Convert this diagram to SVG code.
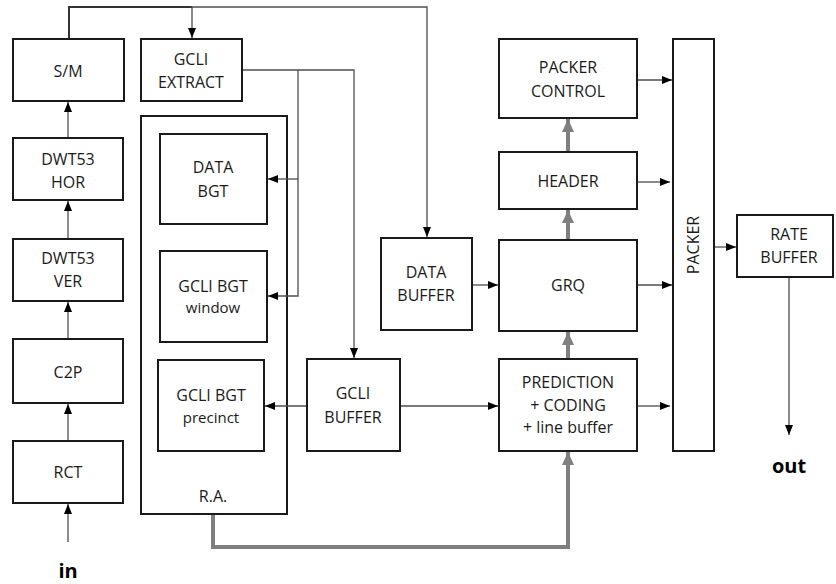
<svg xmlns="http://www.w3.org/2000/svg" width="836" height="584" viewBox="0 0 836 584">
  <defs>
    <style>
      .box { fill: #ffffff; stroke: #1a1a1a; stroke-width: 2; }
      .frame { fill: none; stroke: #1a1a1a; stroke-width: 2; }
      .lbl { font-family: "Open Sans", "Liberation Sans", sans-serif; font-size: 16px; fill: #1a1a1a; text-anchor: middle; }
      .sm { font-size: 15px; }
      .io { font-family: "Open Sans", "Liberation Sans", sans-serif; font-weight: bold; font-size: 20px; fill: #000; text-anchor: middle; }
      .wire { fill: none; stroke: #4d4d4d; stroke-width: 1.3; }
      .wire-dark { fill: none; stroke: #333333; stroke-width: 2; }
      .bus { fill: none; stroke: #7f7f7f; stroke-width: 4; }
    </style>
    <marker id="arrow" viewBox="0 0 10 10" refX="10" refY="5" markerWidth="10" markerHeight="10" markerUnits="userSpaceOnUse" orient="auto">
      <path d="M0,1 L10,5 L0,9 z" fill="#000000"/>
    </marker>
    <marker id="arrow-bus" viewBox="0 0 13 12" refX="13" refY="6" markerWidth="13" markerHeight="12" markerUnits="userSpaceOnUse" orient="auto">
      <path d="M0,0 L13,6 L0,12 z" fill="#7f7f7f"/>
    </marker>
  </defs>

  <!-- left pipeline -->
  <g id="sm">
    <rect class="box" x="13" y="39" width="111" height="62"/>
    <text class="lbl" x="68" y="77">S/M</text>
  </g>
  <g id="dwt-hor">
    <rect class="box" x="13" y="138" width="110" height="62"/>
    <text class="lbl" x="68" y="165">DWT53</text>
    <text class="lbl" x="68" y="188">HOR</text>
  </g>
  <g id="dwt-ver">
    <rect class="box" x="13" y="239" width="110" height="62"/>
    <text class="lbl" x="68" y="264">DWT53</text>
    <text class="lbl" x="68" y="287">VER</text>
  </g>
  <g id="c2p">
    <rect class="box" x="13" y="339" width="110" height="64"/>
    <text class="lbl" x="68" y="378">C2P</text>
  </g>
  <g id="rct">
    <rect class="box" x="13" y="441" width="110" height="62"/>
    <text class="lbl" x="68" y="478">RCT</text>
  </g>
  <g id="in">
    <text class="io" x="68" y="578">in</text>
  </g>

  <!-- GCLI extraction -->
  <g id="gcli-extract">
    <rect class="box" x="141" y="39" width="101" height="62"/>
    <text class="lbl" x="191" y="65">GCLI</text>
    <text class="lbl" x="191" y="88">EXTRACT</text>
  </g>

  <!-- rate allocation -->
  <g id="ra">
    <rect class="frame" x="141" y="116" width="146" height="398"/>
    <text class="lbl" x="213" y="502">R.A.</text>
  </g>
  <g id="data-bgt">
    <rect class="box" x="160" y="134" width="107" height="90"/>
    <text class="lbl" x="213" y="173">DATA</text>
    <text class="lbl" x="213" y="197">BGT</text>
  </g>
  <g id="gcli-bgt-window">
    <rect class="box" x="160" y="251" width="107" height="91"/>
    <text class="lbl" x="213" y="292">GCLI BGT</text>
    <text class="lbl sm" x="213" y="313">window</text>
  </g>
  <g id="gcli-bgt-precinct">
    <rect class="box" x="158" y="360" width="106" height="91"/>
    <text class="lbl" x="211" y="401">GCLI BGT</text>
    <text class="lbl sm" x="211" y="423">precinct</text>
  </g>

  <!-- buffers -->
  <g id="gcli-buffer">
    <rect class="box" x="307" y="359" width="93" height="92"/>
    <text class="lbl" x="353" y="399">GCLI</text>
    <text class="lbl" x="353" y="423">BUFFER</text>
  </g>
  <g id="data-buffer">
    <rect class="box" x="381" y="238" width="91" height="92"/>
    <text class="lbl" x="426" y="278">DATA</text>
    <text class="lbl" x="426" y="301">BUFFER</text>
  </g>

  <!-- coding column -->
  <g id="packer-control">
    <rect class="box" x="499" y="39" width="138" height="79"/>
    <text class="lbl" x="568" y="73">PACKER</text>
    <text class="lbl" x="568" y="97">CONTROL</text>
  </g>
  <g id="header">
    <rect class="box" x="499" y="152" width="138" height="57"/>
    <text class="lbl" x="568" y="187">HEADER</text>
  </g>
  <g id="grq">
    <rect class="box" x="499" y="240" width="138" height="91"/>
    <text class="lbl" x="568" y="291">GRQ</text>
  </g>
  <g id="prediction">
    <rect class="box" x="499" y="359" width="138" height="92"/>
    <text class="lbl" x="568" y="388">PREDICTION</text>
    <text class="lbl" x="568" y="411">+ CODING</text>
    <text class="lbl" x="568" y="433">+ line buffer</text>
  </g>

  <!-- output stage -->
  <g id="packer">
    <rect class="box" x="673" y="39" width="41" height="412"/>
    <text class="lbl" transform="translate(699,245) rotate(-90)">PACKER</text>
  </g>
  <g id="rate-buffer">
    <rect class="box" x="737" y="215" width="96" height="62"/>
    <text class="lbl" x="789" y="240">RATE</text>
    <text class="lbl" x="789" y="263">BUFFER</text>
  </g>
  <g id="out">
    <text class="io" x="789" y="473">out</text>
  </g>

  <!-- connectors -->
  <g id="connectors">
    <!-- input into colour transform -->
    <line class="wire" x1="68" y1="542" x2="68" y2="504" marker-end="url(#arrow)"/>
    <!-- left pipeline -->
    <line class="wire" x1="68" y1="440" x2="68" y2="404" marker-end="url(#arrow)"/>
    <line class="wire" x1="68" y1="338" x2="68" y2="302" marker-end="url(#arrow)"/>
    <line class="wire" x1="68" y1="238" x2="68" y2="201" marker-end="url(#arrow)"/>
    <line class="wire" x1="68" y1="137" x2="68" y2="102" marker-end="url(#arrow)"/>
    <!-- S/M output distribution along the top -->
    <path class="wire-dark" d="M69,38 V7 H192"/>
    <line class="wire" x1="192" y1="7" x2="192" y2="38" marker-end="url(#arrow)"/>
    <path class="wire" d="M192,7 H427 V237" marker-end="url(#arrow)"/>
    <!-- GCLI EXTRACT outputs -->
    <path class="wire" d="M243,70 H354 V358" marker-end="url(#arrow)"/>
    <path class="wire" d="M298,70 V296 H268" marker-end="url(#arrow)"/>
    <line class="wire" x1="298" y1="179" x2="268" y2="179" marker-end="url(#arrow)"/>
    <!-- GCLI BUFFER links -->
    <line class="wire" x1="306" y1="406" x2="265" y2="406" marker-end="url(#arrow)"/>
    <line class="wire" x1="401" y1="406" x2="498" y2="406" marker-end="url(#arrow)"/>
    <!-- data buffer to quantiser -->
    <line class="wire" x1="473" y1="285" x2="498" y2="285" marker-end="url(#arrow)"/>
    <!-- into packer -->
    <line class="wire" x1="638" y1="80" x2="672" y2="80" marker-end="url(#arrow)"/>
    <line class="wire" x1="638" y1="182" x2="670" y2="182" marker-end="url(#arrow)"/>
    <line class="wire" x1="638" y1="285" x2="672" y2="285" marker-end="url(#arrow)"/>
    <line class="wire" x1="638" y1="406" x2="670" y2="406" marker-end="url(#arrow)"/>
    <!-- packer to rate buffer and output -->
    <line class="wire" x1="715" y1="247" x2="736" y2="247" marker-end="url(#arrow)"/>
    <line class="wire" x1="789" y1="278" x2="789" y2="435" marker-end="url(#arrow)"/>
    <!-- wide budget/control paths -->
    <path class="bus" d="M213,515 V547 H568 V452" marker-end="url(#arrow-bus)"/>
    <line class="bus" x1="568" y1="358" x2="568" y2="332" marker-end="url(#arrow-bus)"/>
    <line class="bus" x1="568" y1="239" x2="568" y2="210" marker-end="url(#arrow-bus)"/>
    <line class="bus" x1="568" y1="151" x2="568" y2="119" marker-end="url(#arrow-bus)"/>
  </g>
</svg>
